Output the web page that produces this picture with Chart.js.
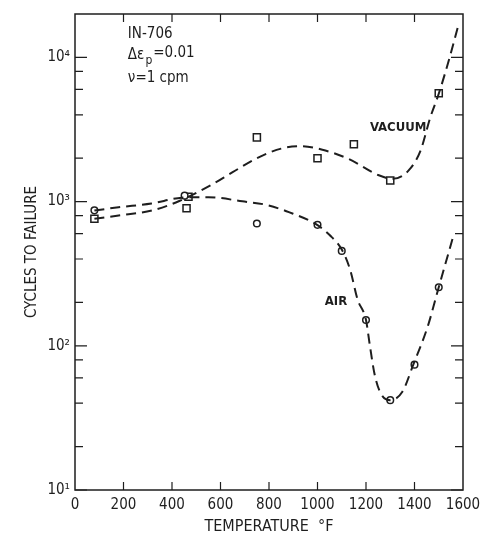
<!DOCTYPE html>
<html>
<head>
<meta charset="utf-8">
<script src="https://cdn.jsdelivr.net/npm/chart.js@4.4.1/dist/chart.umd.min.js"></script>
<style>
  body { margin: 0; background: #fff; }
  canvas { display: block; }
</style>
</head>
<body>
<canvas id="fatigueChart" width="481" height="540"></canvas>
<script>
// measured points (temperature in °F, cycles to failure)
const vacuumTemp = [80, 468, 460, 750, 1000, 1150, 1300, 1500];
const vacuumCycles = [760, 1080, 900, 2790, 2000, 2500, 1400, 5650];
const airTemp = [80, 452, 750, 1000, 1100, 1200, 1300, 1400, 1500];
const airCycles = [870, 1100, 705, 690, 455, 151, 42, 74, 255];

// dashed fit curves
const vacuumFitTemp = [80, 180, 320, 430, 560, 650, 750, 850, 930, 1020, 1130, 1250, 1310, 1375, 1425, 1465, 1500, 1545, 1580];
const vacuumFitCycles = [760, 800, 870, 1010, 1300, 1600, 2000, 2330, 2420, 2290, 1970, 1530, 1440, 1640, 2260, 3830, 5600, 10000, 16500];
const airFitTemp = [80, 180, 315, 440, 550, 690, 787, 882, 995, 1050, 1100, 1135, 1165, 1200, 1215, 1235, 1260, 1300, 1350, 1395, 1455, 1500, 1560];
const airFitCycles = [867, 914, 970, 1064, 1074, 1004, 951, 845, 695, 586, 465, 335, 210, 151, 103, 64, 47, 42, 48, 74, 137, 255, 576];

// axes
const xTicks = [0, 200, 400, 600, 800, 1000, 1200, 1400, 1600];
const yTicks = [10, 100, 1000, 10000];
const yMinorTicks = [20, 40, 60, 80, 200, 400, 600, 800, 2000, 4000, 6000, 8000];

const ink = '#1e1e1e';
const font = '"DejaVu Sans Condensed", "DejaVu Sans", sans-serif';
const sup = { 1: '\u00b9', 2: '\u00b2', 3: '\u00b3', 4: '\u2074' };

const toPoints = (xs, ys) => xs.map((t, i) => ({ x: t, y: ys[i] }));

// frame, inward ticks and the text notes
const frameAndNotes = {
  id: 'frameAndNotes',
  afterDraw(chart) {
    const { ctx, chartArea: a, scales: { x, y } } = chart;
    ctx.save();
    ctx.strokeStyle = ink;
    ctx.lineWidth = 1.5;
    ctx.strokeRect(a.left, a.top, a.right - a.left, a.bottom - a.top);

    ctx.lineWidth = 1.2;
    ctx.beginPath();
    xTicks.slice(1, -1).forEach(v => {
      const px = x.getPixelForValue(v);
      ctx.moveTo(px, a.bottom); ctx.lineTo(px, a.bottom - 8);
      ctx.moveTo(px, a.top); ctx.lineTo(px, a.top + 8);
    });
    yTicks.concat(yMinorTicks).forEach(v => {
      const py = y.getPixelForValue(v);
      const len = yTicks.includes(v) ? 12 : 8;
      ctx.moveTo(a.left, py); ctx.lineTo(a.left + len, py);
      ctx.moveTo(a.right, py); ctx.lineTo(a.right - len, py);
    });
    ctx.stroke();

    ctx.fillStyle = ink;
    ctx.textBaseline = 'middle';
    ctx.textAlign = 'left';

    // material / test conditions
    const nx = x.getPixelForValue(218);
    const ny = y.getPixelForValue(14500);
    ctx.font = '15px ' + font;
    ctx.fillText('IN-706', nx, ny);
    ctx.fillText('\u0394\u03b5', nx, ny + 21);
    let w = ctx.measureText('\u0394\u03b5').width;
    ctx.font = '12px ' + font;
    ctx.fillText('p', nx + w + 1, ny + 27);
    w += ctx.measureText('p').width + 2;
    ctx.font = '15px ' + font;
    ctx.fillText('=0.01', nx + w, ny + 19);
    ctx.fillText('\u03bd=1 cpm', nx, ny + 44);

    ctx.font = 'bold 13px ' + font;
    ctx.fillText('VACUUM', x.getPixelForValue(1216), y.getPixelForValue(3280));
    ctx.fillText('AIR', x.getPixelForValue(1030), y.getPixelForValue(202));
    ctx.restore();
  }
};

const fitStyle = {
  showLine: true,
  borderColor: ink,
  borderWidth: 2,
  borderDash: [10, 6],
  pointRadius: 0,
  tension: 0.4,
  cubicInterpolationMode: 'monotone'
};

new Chart(document.getElementById('fatigueChart'), {
  type: 'scatter',
  data: {
    datasets: [
      Object.assign({ label: 'Vacuum fit', data: toPoints(vacuumFitTemp, vacuumFitCycles) }, fitStyle),
      Object.assign({ label: 'Air fit', data: toPoints(airFitTemp, airFitCycles) }, fitStyle),
      {
        label: 'Air',
        data: toPoints(airTemp, airCycles),
        pointStyle: 'circle',
        pointRadius: 3.3,
        borderColor: ink,
        borderWidth: 1.5,
        backgroundColor: '#fff'
      },
      {
        label: 'Vacuum',
        data: toPoints(vacuumTemp, vacuumCycles),
        pointStyle: 'rect',
        pointRadius: 5,
        borderColor: ink,
        borderWidth: 1.5,
        backgroundColor: 'rgba(255,255,255,0)'
      }
    ]
  },
  options: {
    responsive: false,
    devicePixelRatio: 1,
    animation: false,
    layout: { padding: { top: 10, right: 18, left: 0, bottom: 0 } },
    plugins: {
      legend: { display: false },
      tooltip: { enabled: false }
    },
    scales: {
      x: {
        type: 'linear',
        min: 0,
        max: 1600,
        afterBuildTicks: s => { s.ticks = xTicks.map(v => ({ value: v })); },
        afterFit: s => { s.height = 50; s.paddingRight = 0; s.paddingLeft = 0; },
        grid: { display: false, drawTicks: false },
        border: { display: false },
        ticks: {
          color: ink,
          font: { family: font, size: 15 },
          padding: 6,
          maxRotation: 0,
          autoSkip: false,
          callback: v => String(v)
        },
        title: {
          display: true,
          text: 'TEMPERATURE  \u00b0F',
          color: ink,
          font: { family: font, size: 16 },
          padding: { top: 0, bottom: 4 }
        }
      },
      y: {
        type: 'logarithmic',
        min: 10,
        max: 20000,
        afterBuildTicks: s => { s.ticks = yTicks.map(v => ({ value: v })); },
        afterFit: s => { s.width = 75; },
        grid: { display: false, drawTicks: false },
        border: { display: false },
        ticks: {
          color: ink,
          font: { family: font, size: 15 },
          padding: 5,
          callback: v => '10' + sup[Math.round(Math.log10(v))]
        },
        title: {
          display: true,
          text: 'CYCLES TO FAILURE',
          color: ink,
          font: { family: font, size: 15 },
          padding: { top: 23, bottom: 0 }
        }
      }
    }
  },
  plugins: [frameAndNotes]
});
</script>
</body>
</html>
